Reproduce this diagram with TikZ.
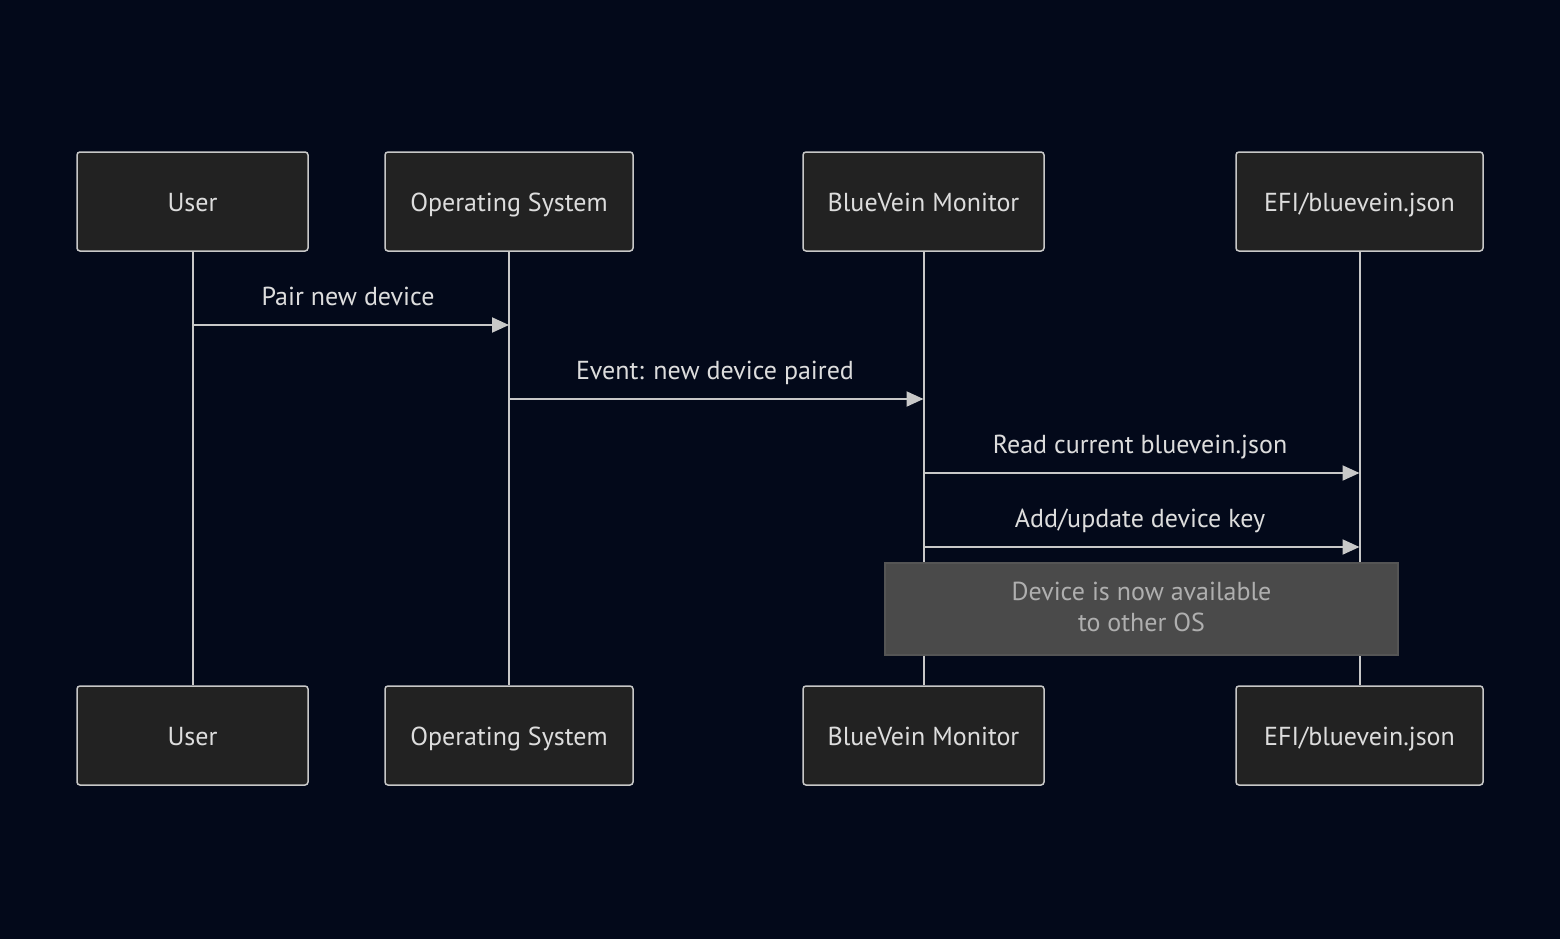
\documentclass[tikz,border=0pt]{standalone}
\usepackage{fontspec}
\setmainfont{PT Sans}
\usetikzlibrary{arrows.meta}
\definecolor{bgc}{RGB}{3,9,26}
\definecolor{boxfill}{RGB}{34,34,34}
\definecolor{boxline}{RGB}{200,200,200}
\definecolor{txt}{RGB}{221,221,221}
\definecolor{notefill}{RGB}{74,74,74}
\definecolor{noteline}{RGB}{85,85,85}
\definecolor{notetxt}{RGB}{175,175,175}
\tikzset{
  actor/.style={draw=boxline, fill=boxfill, line width=1.5pt, rounded corners=3pt,
    minimum width=#1, minimum height=99pt, inner sep=0pt, text=txt,
    font=\fontsize{26}{31}\selectfont},
  actortext/.style={text=txt, font=\fontsize{26}{31}\selectfont, inner sep=0pt, anchor=base},
  lifeline/.style={draw=boxline, line width=2pt},
  msg/.style={draw=boxline, line width=2pt, -{Triangle[length=17pt,width=15pt]}},
  msglabel/.style={text=txt, font=\fontsize{26}{31}\selectfont, inner sep=0pt, anchor=base},
  notebox/.style={draw=noteline, fill=notefill, line width=1.5pt,
    minimum width=513pt, minimum height=92pt, inner sep=0pt},
  notetext/.style={text=notetxt, font=\fontsize{26}{31}\selectfont, inner sep=0pt, anchor=base}
}
\begin{document}
\begin{tikzpicture}[x=1pt,y=-1pt]
\fill[bgc] (0,0) rectangle (1560,939);
\useasboundingbox (0,0) rectangle (1560,939);
% top actors
\node[actor=231pt] (ut) at (192.5,201.5) {};
\node[actor=248pt] (ot) at (509,201.5) {};
\node[actor=241pt] (bt) at (923.5,201.5) {};
\node[actor=247pt] (et) at (1359.5,201.5) {};
\node[actortext] (utt) at (192.5,211) {User};
\node[actortext] (ott) at (509,211) {Operating System};
\node[actortext] (btt) at (923.5,211) {BlueVein Monitor};
\node[actortext] (ett) at (1359.5,211) {EFI/bluevein.json};
% bottom actors
\node[actor=231pt] (ub) at (192.5,735.5) {};
\node[actor=248pt] (ob) at (509,735.5) {};
\node[actor=241pt] (bb) at (923.5,735.5) {};
\node[actor=247pt] (eb) at (1359.5,735.5) {};
\node[actortext] (ubt) at (192.5,745) {User};
\node[actortext] (obt) at (509,745) {Operating System};
\node[actortext] (bbt) at (923.5,745) {BlueVein Monitor};
\node[actortext] (ebt) at (1359.5,745) {EFI/bluevein.json};
% lifelines
\draw[lifeline] (ut.south) -- (ub.north);
\draw[lifeline] (ot.south) -- (ob.north);
\draw[lifeline] (bt.south) -- (bb.north);
\draw[lifeline] (et.south) -- (eb.north);
% message anchor coordinates
\coordinate (m1a) at (192.5,325);
\coordinate (m1b) at (509,325);
\coordinate (m2a) at (509,399);
\coordinate (m2b) at (923.5,399);
\coordinate (m3a) at (923.5,473);
\coordinate (m3b) at (1359.5,473);
\coordinate (m4a) at (923.5,547);
\coordinate (m4b) at (1359.5,547);
\draw[msg] (m1a) -- (m1b);
\draw[msg] (m2a) -- (m2b);
\draw[msg] (m3a) -- (m3b);
\draw[msg] (m4a) -- (m4b);
\node[msglabel] (l1) at (348,305) {Pair new device};
\node[msglabel] (l2) at (715,379) {Event: new device paired};
\node[msglabel] (l3) at (1140,453) {Read current bluevein.json};
\node[msglabel] (l4) at (1140,527) {Add/update device key};
% note
\node[notebox] (note) at (1141.5,609) {};
\node[notetext] (n1) at (1141.5,600) {Device is now available};
\node[notetext] (n2) at (1141.5,631.5) {to other OS};
\end{tikzpicture}
\end{document}
